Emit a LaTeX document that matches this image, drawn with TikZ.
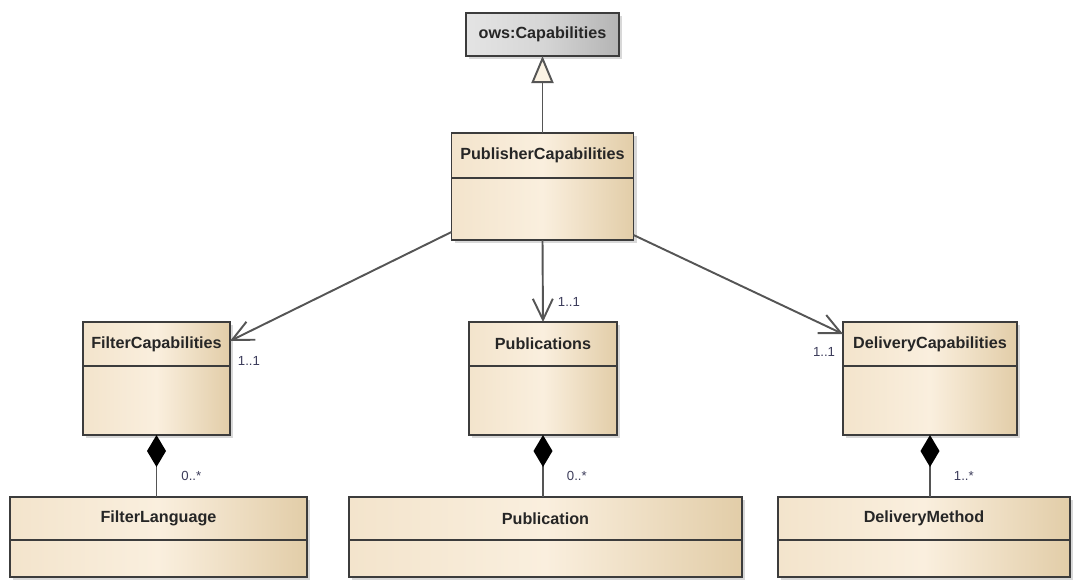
\documentclass[tikz,border=0pt]{standalone}
\usepackage{fontspec}
\setsansfont{Liberation Sans}
\usetikzlibrary{arrows.meta, positioning, shadows}

\begin{document}
\begin{tikzpicture}[
    cls/.style={rectangle, draw=boxline, line width=1pt, outer sep=0pt, inner sep=0pt,
        font=\sffamily\bfseries\fontsize{9.2}{11}\selectfont, text=black!85,
        left color=clsleft, right color=clsright, middle color=clsmid,
        drop shadow={shadow xshift=0.6mm, shadow yshift=-0.6mm, fill=gray!60}},
    ifc/.style={cls, left color=ifcleft, right color=ifcright, middle color=ifcmid},
    mult/.style={font=\sffamily\fontsize{7.5}{8}\selectfont, text=multcol, inner sep=0pt},
    assoc/.style={draw=linecol, line width=1.1pt, -{Straight Barb[length=4.2mm, width=4mm]}},
    comp/.style={draw=linecol, line width=1.1pt, {Diamond[length=6.4mm, width=3.8mm, color=black]}-},
    gen/.style={draw=linecol, line width=1.1pt, -{Triangle[length=5.4mm, width=4.4mm, fill=trifill]}}]

    % Define colors
    \definecolor{clsleft}{RGB}{243,228,204}
    \definecolor{clsmid}{RGB}{250,239,222}
    \definecolor{clsright}{RGB}{226,205,168}
    \definecolor{ifcleft}{RGB}{228,228,228}
    \definecolor{ifcmid}{RGB}{214,214,214}
    \definecolor{ifcright}{RGB}{180,180,180}
    \definecolor{boxline}{RGB}{60,60,60}
    \definecolor{linecol}{RGB}{85,85,85}
    \definecolor{trifill}{RGB}{251,243,228}
    \definecolor{multcol}{RGB}{60,60,90}

    \useasboundingbox (0,0) rectangle (21.52,-11.62);

    % Nodes
    \node[ifc, minimum width=3.06cm, minimum height=0.86cm] (ows) at (10.85,-0.69) {ows:Capabilities};

    \node[cls, minimum width=3.64cm, minimum height=0.9cm, below=1.54cm of ows] (pub) {PublisherCapabilities};
    \node[cls, minimum width=3.64cm, minimum height=1.24cm, below=0pt of pub] (pubbody) {};

    \node[cls, minimum width=2.94cm, minimum height=0.88cm] (fcap) at (3.13,-6.88) {FilterCapabilities};
    \node[cls, minimum width=2.94cm, minimum height=1.38cm, below=0pt of fcap] (fcapbody) {};
    \node[cls, minimum width=2.96cm, minimum height=0.88cm] (pubs) at (10.86,-6.88) {Publications};
    \node[cls, minimum width=2.96cm, minimum height=1.38cm, below=0pt of pubs] (pubsbody) {};
    \node[cls, minimum width=3.48cm, minimum height=0.88cm] (dcap) at (18.6,-6.88) {DeliveryCapabilities};
    \node[cls, minimum width=3.48cm, minimum height=1.38cm, below=0pt of dcap] (dcapbody) {};

    \node[cls, minimum width=5.94cm, minimum height=0.86cm] (flang) at (3.17,-10.37) {FilterLanguage};
    \node[cls, minimum width=5.94cm, minimum height=0.74cm, below=0pt of flang] (flangbody) {};
    \node[cls, minimum width=7.86cm, minimum height=0.86cm] (publ) at (10.91,-10.37) {Publication};
    \node[cls, minimum width=7.86cm, minimum height=0.74cm, below=0pt of publ] (publbody) {};
    \node[cls, minimum width=5.84cm, minimum height=0.86cm] (dmeth) at (18.48,-10.37) {DeliveryMethod};
    \node[cls, minimum width=5.84cm, minimum height=0.74cm, below=0pt of dmeth] (dmethbody) {};

    % Generalization
    \draw[gen] (pub.north) -- (ows.south);

    % Associations with multiplicities
    \draw[assoc] ([yshift=0.16cm]pubbody.south west) -- ([yshift=-0.38cm]fcap.north east)
        node[mult, at end, below right=0.28cm and 0.14cm] {1..1};
    \draw[assoc] (pubbody.south) -- (pubs.north)
        node[mult, at end, above right=0.3cm and 0.28cm] {1..1};
    \draw[assoc] ([yshift=0.1cm]pubbody.south east) -- ([yshift=-0.24cm]dcap.north west)
        node[mult, at end, below left=0.24cm and 0.14cm] {1..1};

    % Compositions
    \draw[comp] (fcapbody.south) -- (fcapbody.south |- flang.north)
        node[mult, pos=0.66, right=0.48cm] {0..*};
    \draw[comp] (pubsbody.south) -- (pubsbody.south |- publ.north)
        node[mult, pos=0.66, right=0.46cm] {0..*};
    \draw[comp] (dcapbody.south) -- (dcapbody.south |- dmeth.north)
        node[mult, pos=0.66, right=0.46cm] {1..*};

\end{tikzpicture}
\end{document}
